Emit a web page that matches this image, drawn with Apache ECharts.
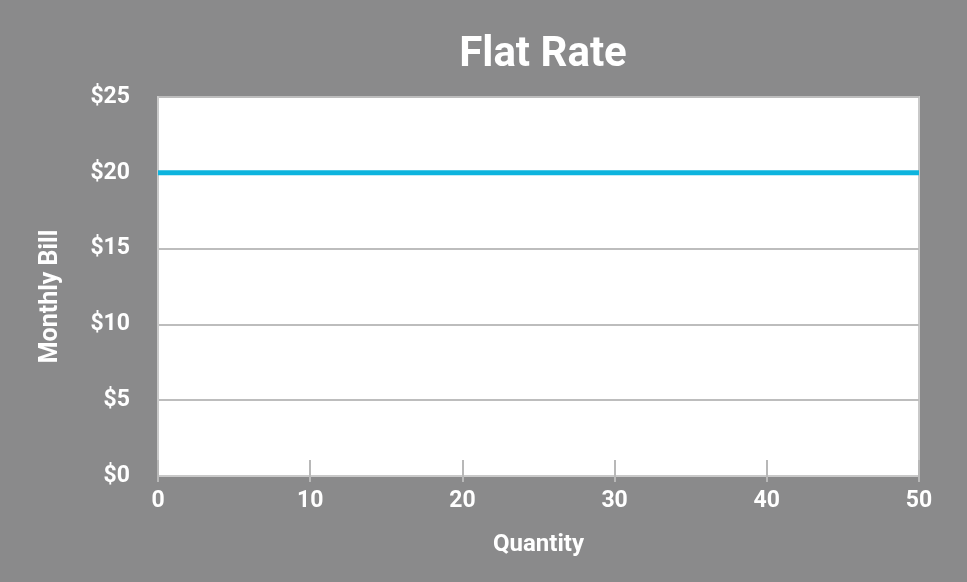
<!DOCTYPE html>
<html>
<head>
<meta charset="utf-8">
<script src="https://cdn.jsdelivr.net/npm/echarts@6/dist/echarts.min.js"></script>
<style>
html,body{margin:0;padding:0;background:#8a8a8b;}
#c{width:967px;height:582px;}
</style>
</head>
<body>
<div id="c"></div>
<script>
const quantity = [0, 50];
const monthlyBill = [20, 20];
const titleText = 'Flat Rate';
const xName = 'Quantity';
const yName = 'Monthly Bill';

const chart = echarts.init(document.getElementById('c'));
const font = 'Roboto';
const lbl = {color:'#fff', fontFamily:font, fontWeight:'bold', fontSize:23};
chart.setOption({
  backgroundColor:'#8a8a8b',
  animation:false,
  title:{text:titleText, left:538, textAlign:'center', top:29,
    textStyle:{color:'#fff', fontFamily:font, fontWeight:'bold', fontSize:42}},
  grid:{left:158, right:48, top:97, bottom:106, show:true, backgroundColor:'#fff', borderColor:'#c9c9c9', borderWidth:2},
  xAxis:[{
    type:'value', min:0, max:50, interval:10, position:'bottom',
    name:xName, nameLocation:'middle', nameGap:57,
    nameTextStyle:{color:'#fff', fontFamily:font, fontWeight:'bold', fontSize:24},
    axisLine:{show:true, lineStyle:{color:'#c9c9c9', width:2}},
    axisTick:{show:true, inside:true, length:16, lineStyle:{color:'#b8b8b8', width:2}},
    axisLabel:Object.assign({margin:14}, lbl),
    splitLine:{show:false}
  },{
    type:'value', min:0, max:50, interval:10, position:'bottom',
    axisLine:{show:false},
    axisTick:{show:true, inside:false, length:6, lineStyle:{color:'#b8b8b8', width:2}},
    axisLabel:{show:false},
    splitLine:{show:false}
  }],
  yAxis:{
    type:'value', min:0, max:25, interval:5,
    name:yName, nameLocation:'middle', nameGap:95, nameRotate:90,
    nameTextStyle:{color:'#fff', fontFamily:font, fontWeight:'bold', fontSize:25, padding:[0,20,0,0]},
    axisLine:{show:true, lineStyle:{color:'#c9c9c9', width:2}},
    axisTick:{show:false},
    axisLabel:Object.assign({margin:28, formatter:v=>'$'+v}, lbl),
    splitLine:{show:true, lineStyle:{color:'#bdbdbd', width:2}}
  },
  series:[{
    type:'line', xAxisIndex:0,
    data:quantity.map((q,i)=>[q, monthlyBill[i]]),
    symbol:'none',
    lineStyle:{color:'#0db4de', width:5},
    z:5
  }]
});
</script>
</body>
</html>
